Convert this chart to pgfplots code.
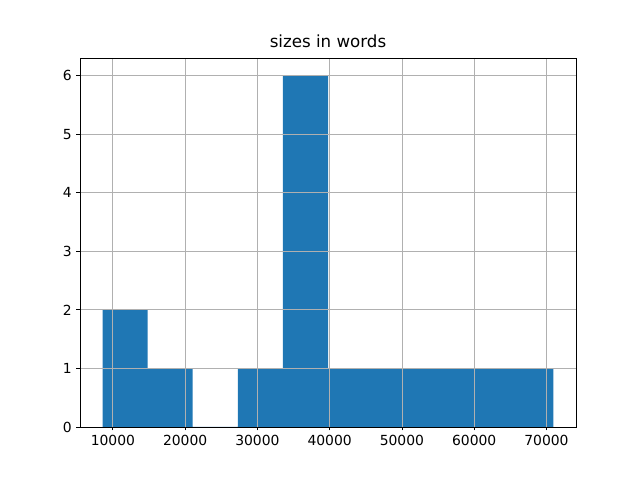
\documentclass[border=0pt]{standalone}
\usepackage{pgfplots}
\pgfplotsset{compat=1.18}
\usepackage{fontspec}
\setmainfont{DejaVu Sans}
\definecolor{mplblue}{HTML}{1F77B4}
\definecolor{gridgray}{HTML}{B0B0B0}
\begin{document}
\begin{tikzpicture}
\path (-57.6pt,-38.16pt) rectangle (403.2pt,307.44pt);
\begin{axis}[
  at={(0,0)}, anchor=south west,
  scale only axis, width=357.12pt, height=265.68pt,
  xmin=5450, xmax=74090, ymin=0, ymax=6.3,
  xtick={10000,20000,30000,40000,50000,60000,70000},
  ytick={0,1,2,3,4,5,6},
  /pgf/number format/1000 sep={},
  /pgf/number format/assume math mode=true,
  scaled x ticks=false,
  tick align=outside, major tick length=2.52pt,
  xtick pos=bottom, ytick pos=left,
  tick style={black, line width=0.58pt},
  axis line style={line width=0.58pt},
  grid=major, major grid style={gridgray, line width=0.58pt},
  axis on top,
  ticklabel style={font=\fontsize{10}{12}\selectfont},
  title={sizes in words},
  title style={font=\fontsize{12}{14}\selectfont, yshift=-2pt},
]
\addplot[ybar interval, fill=mplblue, draw=none] coordinates {
(8570,2) (14810,1) (21050,0) (27290,1) (33530,6) (39770,1) (46010,1) (52250,1) (58490,1) (64730,1) (70970,1)
};
\end{axis}
\end{tikzpicture}
\end{document}
